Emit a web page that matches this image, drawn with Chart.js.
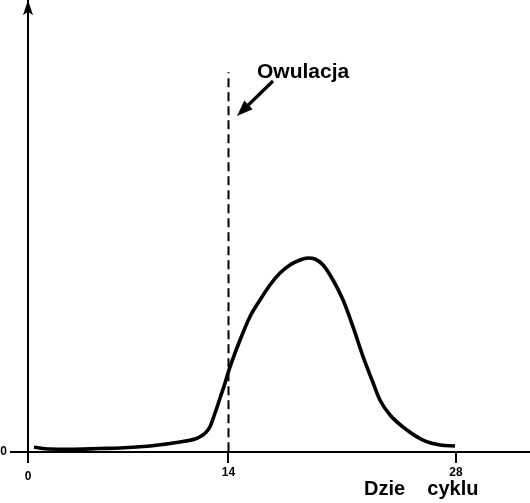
<!DOCTYPE html>
<html>
<head>
<meta charset="utf-8">
<script src="https://cdn.jsdelivr.net/npm/chart.js@4/dist/chart.umd.min.js"></script>
<style>
  html, body { margin: 0; padding: 0; background: #ffffff; }
  #wrap { position: relative; width: 530px; height: 503px; }
</style>
</head>
<body>
<div id="wrap"><canvas id="c"></canvas></div>
<script>
// ---- data ----
const cycleDays = [0.42, 1.54, 2.93, 5.03, 6.42, 8.52, 10.61, 11.66, 12.01, 12.36, 12.71, 12.94, 13.18, 13.41, 13.76, 14.03, 14.71, 15.32, 15.94, 16.55, 17.17, 17.78, 18.40, 18.89, 19.32, 19.82, 20.43, 21.05, 21.66, 22.28, 22.83, 23.32, 23.94, 24.98, 25.97, 27.02, 27.94];
const hormoneLevel = [1.04, 0.66, 0.60, 0.77, 0.88, 1.33, 2.21, 2.88, 3.38, 4.14, 5.60, 7.52, 9.73, 11.95, 15.27, 18.14, 24.78, 29.93, 33.63, 36.95, 39.60, 41.37, 42.48, 42.92, 42.70, 41.37, 38.05, 33.63, 27.72, 21.08, 15.93, 11.50, 8.19, 4.87, 2.65, 1.55, 1.33];
const ovulationDay = 14;
const ovulationMarkTop = 84;
const xTickValues = [0, 14, 28];
const yTickValues = [0];
const ovulationLabel = 'Owulacja';
const xAxisLabel = 'Dzie    cyklu';

// ---- piecewise x scale (the drawing's day axis is not evenly spaced) ----
const knotValues = [0, 14, 28, 33];
const knotDecimals = [0, 0.3994, 0.8526, 1];
function toDec(v) {
  for (let i = 0; i < knotValues.length - 1; i++) {
    const a = knotValues[i], b = knotValues[i + 1];
    if (v <= b || i === knotValues.length - 2) {
      return knotDecimals[i] + (v - a) / (b - a) * (knotDecimals[i + 1] - knotDecimals[i]);
    }
  }
}
function fromDec(d) {
  for (let i = 0; i < knotDecimals.length - 1; i++) {
    const a = knotDecimals[i], b = knotDecimals[i + 1];
    if (d <= b || i === knotDecimals.length - 2) {
      return knotValues[i] + (d - a) / (b - a) * (knotValues[i + 1] - knotValues[i]);
    }
  }
}
class PiecewiseScale extends Chart.LinearScale {
  getPixelForValue(value) {
    return value === null ? NaN : this.getPixelForDecimal(toDec(value));
  }
  getValueForPixel(pixel) {
    return fromDec(this.getDecimalForPixel(pixel));
  }
}
PiecewiseScale.id = 'piecewise';
PiecewiseScale.defaults = Chart.LinearScale.defaults;
Chart.register(PiecewiseScale);

const FONT = '"Liberation Sans", Arial, Helvetica, sans-serif';

const decorations = {
  id: 'decorations',
  afterDraw(chart) {
    const ctx = chart.ctx;
    const area = chart.chartArea;
    const x0 = chart.scales.x.getPixelForValue(0);
    ctx.save();
    ctx.fillStyle = '#000';
    ctx.strokeStyle = '#000';
    // y-axis arrow head
    ctx.beginPath();
    ctx.moveTo(x0, area.top);
    ctx.lineTo(x0 - 5, area.top + 15);
    ctx.lineTo(x0, area.top + 12);
    ctx.lineTo(x0 + 5, area.top + 15);
    ctx.closePath();
    ctx.fill();
    // ovulation label
    ctx.font = 'bold 21px ' + FONT;
    ctx.textBaseline = 'alphabetic';
    ctx.textAlign = 'left';
    ctx.fillText(ovulationLabel, 257, 78);
    // arrow
    const tail = {x: 273, y: 81};
    const tip = {x: 237, y: 116};
    const dx = tip.x - tail.x, dy = tip.y - tail.y;
    const len = Math.hypot(dx, dy);
    const ux = dx / len, uy = dy / len;
    const hl = 16, hw = 6;
    const bx = tip.x - ux * hl, by = tip.y - uy * hl;
    ctx.lineWidth = 3.2;
    ctx.beginPath();
    ctx.moveTo(tail.x, tail.y);
    ctx.lineTo(bx + ux * 2, by + uy * 2);
    ctx.stroke();
    ctx.beginPath();
    ctx.moveTo(tip.x, tip.y);
    ctx.lineTo(bx - uy * hw, by + ux * hw);
    ctx.lineTo(bx + uy * hw, by - ux * hw);
    ctx.closePath();
    ctx.fill();
    // x-axis label
    ctx.font = 'bold 20px ' + FONT;
    ctx.fillText(xAxisLabel, 364, 495);
    ctx.restore();
  }
};

new Chart(document.getElementById('c'), {
  type: 'line',
  data: {
    datasets: [
      {
        data: cycleDays.map((d, i) => ({x: d, y: hormoneLevel[i]})),
        borderColor: '#000',
        borderWidth: 3.6,
        pointRadius: 0,
        cubicInterpolationMode: 'monotone',
        fill: false
      },
      {
        data: [{x: ovulationDay, y: ovulationMarkTop}, {x: ovulationDay, y: 0}],
        borderColor: '#000',
        borderWidth: 2,
        borderDash: [9, 5],
        borderDashOffset: 8,
        pointRadius: 0,
        tension: 0,
        fill: false
      }
    ]
  },
  options: {
    responsive: true,
    maintainAspectRatio: false,
    animation: false,
    events: [],
    layout: { padding: 0 },
    plugins: {
      legend: { display: false },
      tooltip: { enabled: false },
      title: { display: false }
    },
    scales: {
      x: {
        type: 'piecewise',
        min: 0,
        max: 33,
        afterBuildTicks: s => { s.ticks = xTickValues.map(v => ({value: v})); },
        afterFit: s => { s.height = 51; s.paddingLeft = 0; s.paddingRight = 0; },
        grid: { drawOnChartArea: false, drawTicks: true, tickLength: 11, color: '#000', lineWidth: 2 },
        border: { display: true, color: '#000', width: 2 },
        ticks: {
          color: '#000',
          font: ctx => ctx.index === 0
            ? { family: FONT, size: 12, weight: 'bold', lineHeight: '8px' }
            : { family: FONT, size: 12, weight: 'bold' },
          padding: 2,
          maxRotation: 0,
          autoSkip: false,
          callback: (v, i) => i === 0 ? ['', String(v)] : String(v)
        }
      },
      y: {
        type: 'linear',
        min: 0,
        max: 100,
        afterBuildTicks: s => { s.ticks = yTickValues.map(v => ({value: v})); },
        afterFit: s => { s.width = 28; s.paddingTop = 0; s.paddingBottom = 0; },
        grid: { drawOnChartArea: false, drawTicks: true, tickLength: 18, color: '#000', lineWidth: 2 },
        border: { display: true, color: '#000', width: 2 },
        ticks: {
          color: '#000',
          font: { family: FONT, size: 12, weight: 'bold' },
          padding: 3,
          callback: v => String(v)
        }
      }
    }
  },
  plugins: [decorations]
});
</script>
</body>
</html>
